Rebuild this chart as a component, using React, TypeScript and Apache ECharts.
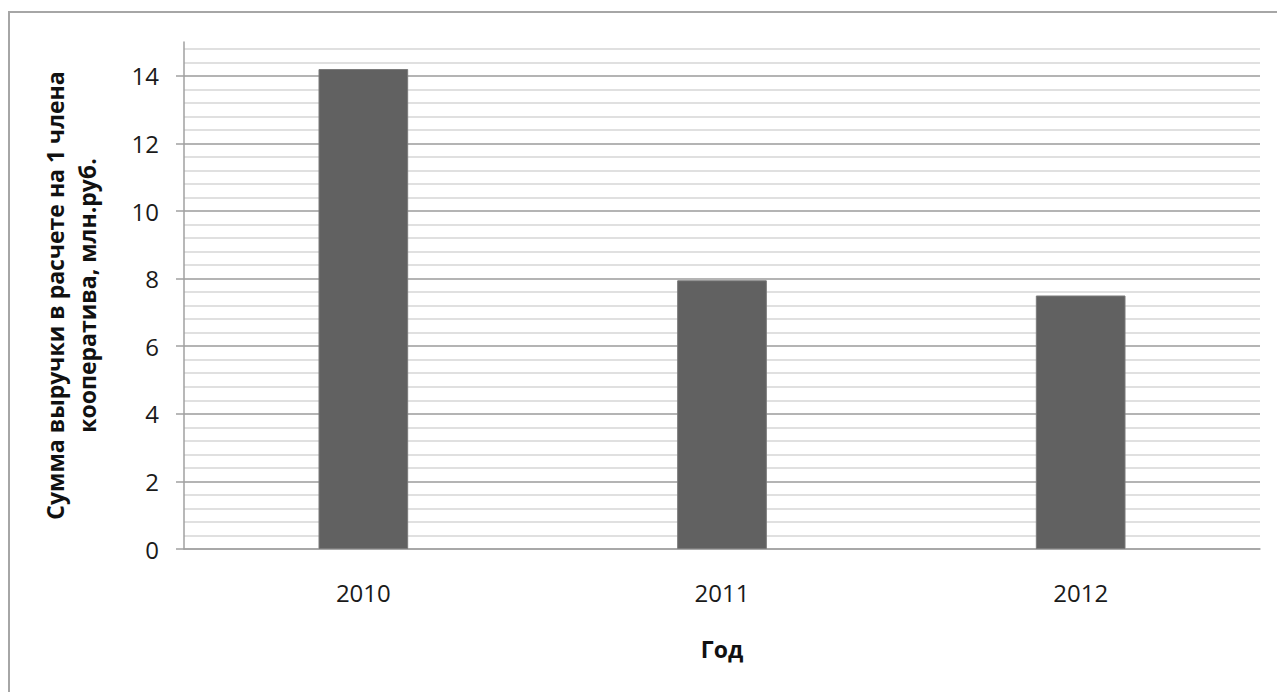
import React, { useEffect, useRef } from "react";
import * as echarts from "echarts";

const years = ["2010", "2011", "2012"];
const revenuePerMember = [14.2, 7.95, 7.5];
const yTitle = "Сумма выручки в расчете на 1 члена\nкооператива, млн.руб.";
const xTitle = "Год";

const FONT = "'Open Sans', 'Noto Sans', sans-serif";

export default function App() {
  const ref = useRef<HTMLDivElement>(null);
  useEffect(() => {
    if (!ref.current) return;
    const chart = echarts.init(ref.current, null, { renderer: "svg" });
    chart.setOption({
      animation: false,
      backgroundColor: "#ffffff",
      textStyle: { fontFamily: FONT },
      graphic: [
        {
          type: "rect",
          shape: { x: 9, y: 12, width: 1300, height: 720 },
          style: { fill: "none", stroke: "#a6a6a6", lineWidth: 2 },
          silent: true,
        },
      ],
      grid: { left: 184, right: 17, top: 42, bottom: 143, containLabel: false },
      xAxis: {
        type: "category",
        data: years,
        axisLine: { show: true, lineStyle: { color: "#a0a0a0", width: 1.5 } },
        axisTick: { show: false },
        axisLabel: { margin: 31, fontSize: 24, color: "#1a1a1a", fontFamily: FONT },
        name: xTitle,
        nameLocation: "middle",
        nameGap: 88,
        nameTextStyle: { fontSize: 23, fontWeight: "bold", color: "#111", fontFamily: FONT },
      },
      yAxis: [
        {
          type: "value",
          min: 0,
          max: 15,
          interval: 2,
          z: 1,
          axisLine: { show: true, lineStyle: { color: "#a0a0a0", width: 1.5 } },
          axisTick: { show: true, length: 8, lineStyle: { color: "#a0a0a0", width: 1.5 } },
          axisLabel: { margin: 25, fontSize: 24, color: "#1a1a1a", fontFamily: FONT, showMaxLabel: false },
          splitLine: { show: true, showMaxLine: false, lineStyle: { color: "#a6a6a6", width: 1.5 } },
          name: yTitle,
          nameLocation: "middle",
          nameGap: 81,
          nameTextStyle: {
            fontSize: 23,
            fontWeight: "bold",
            color: "#111",
            lineHeight: 32,
            fontFamily: FONT,
          },
        },
        {
          type: "value",
          min: 0,
          max: 15,
          interval: 0.4,
          position: "left",
          z: 0,
          axisLine: { show: false },
          axisTick: { show: false },
          axisLabel: { show: false },
          splitLine: { show: true, showMaxLine: false, lineStyle: { color: "#d6d6d6", width: 1.5 } },
        },
      ],
      series: [
        {
          type: "bar",
          data: revenuePerMember,
          yAxisIndex: 0,
          barWidth: "25%",
          z: 3,
          itemStyle: { color: "#616161", borderColor: "#7a7a7a", borderWidth: 1 },
        },
      ],
    });
    return () => chart.dispose();
  }, []);
  return (
    <div
      ref={ref}
      style={{ position: "fixed", left: 0, top: 0, width: 1277, height: 692 }}
    />
  );
}
